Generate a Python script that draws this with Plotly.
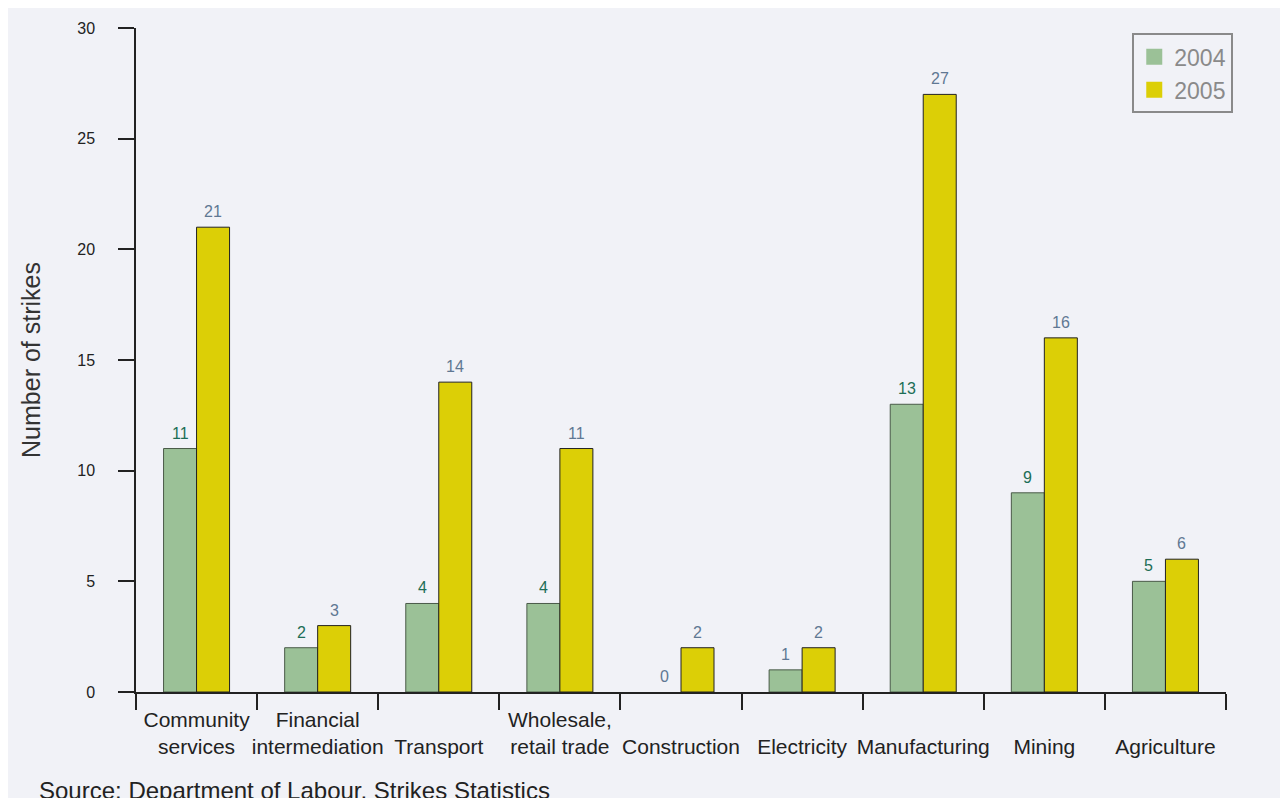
import plotly.graph_objects as go

categories = ["Community<br>services", "Financial<br>intermediation", " <br>Transport",
              "Wholesale,<br>retail trade", " <br>Construction", " <br>Electricity",
              " <br>Manufacturing", " <br>Mining", " <br>Agriculture"]
values_2004 = [11, 2, 4, 4, 0, 1, 13, 9, 5]
values_2005 = [21, 3, 14, 11, 2, 2, 27, 16, 6]
label_colors_2004 = ["#1d6e56", "#1d6e56", "#1d6e56", "#1d6e56", "#5f7893",
                     "#5f7893", "#1d6e56", "#1d6e56", "#1d6e56"]
label_color_2005 = "#5f7893"
y_ticks = [0, 5, 10, 15, 20, 25, 30]

GREEN = "#9bc197"
YELLOW = "#dccf06"
BG = "#f1f2f7"

line_w_2004 = [1 if v > 0 else 0 for v in values_2004]
line_w_2005 = [1 if v > 0 else 0 for v in values_2005]

fig = go.Figure()
fig.add_trace(go.Bar(x=categories, y=values_2004, name="2004", showlegend=False,
                     marker=dict(color=GREEN, line=dict(color="#4a5a48", width=line_w_2004))))
fig.add_trace(go.Bar(x=categories, y=values_2005, name="2005", showlegend=False,
                     marker=dict(color=YELLOW, line=dict(color="#222222", width=line_w_2005))))

# legend proxies
fig.add_trace(go.Scatter(x=[None], y=[None], mode="markers", name="2004",
                         marker=dict(symbol="square", size=16, color=GREEN,
                                     line=dict(color=GREEN, width=0))))
fig.add_trace(go.Scatter(x=[None], y=[None], mode="markers", name="2005",
                         marker=dict(symbol="square", size=16, color=YELLOW,
                                     line=dict(color=YELLOW, width=0))))

for c, v, col in zip(categories, values_2004, label_colors_2004):
    fig.add_annotation(x=c, y=v, text=str(v), showarrow=False, xshift=-16.5,
                       yanchor="bottom", yshift=5, font=dict(size=16, color=col))
for c, v in zip(categories, values_2005):
    fig.add_annotation(x=c, y=v, text=str(v), showarrow=False, xshift=16.5,
                       yanchor="bottom", yshift=5, font=dict(size=16, color=label_color_2005))

fig.add_annotation(xref="paper", yref="paper", x=-0.0908, y=-0.148, xanchor="left",
                   yanchor="middle", text="Source: Department of Labour, Strikes Statistics",
                   showarrow=False, font=dict(size=24, color="#222222"))

fig.update_layout(
    width=1288, height=798,
    margin=dict(l=128, r=70, t=17, b=114),
    paper_bgcolor=BG, plot_bgcolor=BG,
    font=dict(family="Liberation Sans, Arial, sans-serif", color="#222222"),
    barmode="group", bargap=0.455, bargroupgap=0,
    showlegend=True,
    legend=dict(x=0.914, y=0.992, xanchor="left", yanchor="top",
                bgcolor=BG, bordercolor="#8a8a8a", borderwidth=2,
                font=dict(size=23, color="#8a8a8a"), itemwidth=30,
                tracegroupgap=0),
    xaxis=dict(tickson="boundaries", ticks="outside", ticklen=16, tickwidth=1.5,
               tickcolor="#222222", showline=True, linecolor="#222222", linewidth=1.5,
               showgrid=False, tickfont=dict(size=21, color="#222222"),
               range=[-0.5, 8.5], tickangle=0, ticklabelstandoff=8),
    yaxis=dict(range=[0, 30], tickvals=y_ticks, ticks="outside", ticklen=16,
               tickwidth=1.5, tickcolor="#222222", showline=True, linecolor="#222222",
               linewidth=1.5, showgrid=False, zeroline=False,
               tickfont=dict(size=16, color="#222222"), ticklabelstandoff=20,
               title=dict(text="Number of strikes", font=dict(size=25, color="#333333"),
                          standoff=30)),
)

fig.write_html("out.html")
